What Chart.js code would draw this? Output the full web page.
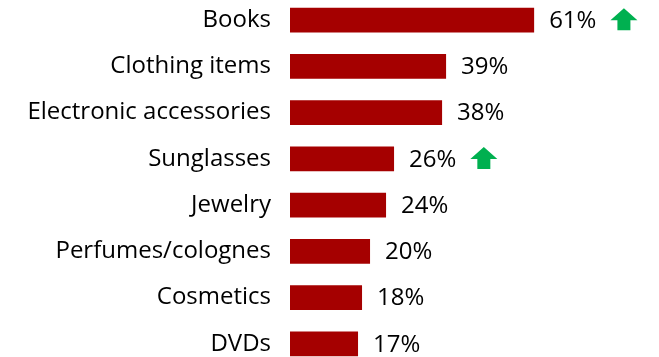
<!DOCTYPE html>
<html>
<head>
<meta charset="utf-8">
<script src="https://cdn.jsdelivr.net/npm/chart.js@4.4.1/dist/chart.umd.min.js"></script>
<style>
    html, body { margin: 0; padding: 0; background: #fff; overflow: hidden; }
    #wrap { position: relative; width: 659px; height: 357px; overflow: hidden; }
    #items { position: absolute; left: 0; top: -3px; }
</style>
</head>
<body>
<div id="wrap">
    <canvas id="items" width="659" height="370"></canvas>
</div>
<script>
const itemLabels = ['Books', 'Clothing items', 'Electronic accessories', 'Sunglasses', 'Jewelry', 'Perfumes/colognes', 'Cosmetics', 'DVDs'];
const itemValues = [61, 39, 38, 26, 24, 20, 18, 17];
const itemRising = [true, false, false, true, false, false, false, false];

const barColor = '#A50000';
const arrowColor = '#00B050';
const fontFamily = "'Open Sans', sans-serif";

// percentage labels at the end of each bar, plus green arrows where the share went up
const valueLabels = {
    id: 'valueLabels',
    afterDatasetsDraw(chart) {
        const ctx = chart.ctx;
        const meta = chart.getDatasetMeta(0);
        ctx.save();
        ctx.font = '24px ' + fontFamily;
        ctx.fillStyle = '#000';
        ctx.textBaseline = 'middle';
        ctx.textAlign = 'left';
        meta.data.forEach((bar, i) => {
            const text = itemValues[i] + '%';
            const x = bar.x + 15;
            ctx.fillText(text, x, bar.y + 1);
            if (itemRising[i]) {
                const ax = x + ctx.measureText(text).width + 14;
                const top = bar.y - 12;
                const w = 27, headH = 12, shaftW = 13, h = 22;
                ctx.fillStyle = arrowColor;
                ctx.beginPath();
                ctx.moveTo(ax + w / 2, top);
                ctx.lineTo(ax + w, top + headH);
                ctx.lineTo(ax + w / 2 + shaftW / 2, top + headH);
                ctx.lineTo(ax + w / 2 + shaftW / 2, top + h);
                ctx.lineTo(ax + w / 2 - shaftW / 2, top + h);
                ctx.lineTo(ax + w / 2 - shaftW / 2, top + headH);
                ctx.lineTo(ax, top + headH);
                ctx.closePath();
                ctx.fill();
                ctx.fillStyle = '#000';
            }
        });
        ctx.restore();
    }
};

new Chart(document.getElementById('items').getContext('2d'), {
    type: 'bar',
    data: {
        labels: itemLabels,
        datasets: [{
            data: itemValues,
            backgroundColor: barColor,
            borderWidth: 0,
            barPercentage: 0.54,
            categoryPercentage: 1
        }]
    },
    options: {
        indexAxis: 'y',
        responsive: false,
        animation: false,
        layout: { padding: 0 },
        scales: {
            x: {
                display: false,
                min: 0,
                max: 92.2
            },
            y: {
                afterFit(scale) {
                    scale.width = 290;
                    scale.paddingTop = 0;
                    scale.paddingBottom = 0;
                },
                grid: { display: false, drawTicks: false },
                border: { display: false },
                ticks: {
                    padding: 19,
                    color: '#000',
                    font: { family: fontFamily, size: 24 }
                }
            }
        },
        plugins: {
            legend: { display: false },
            tooltip: { enabled: false }
        }
    },
    plugins: [valueLabels]
});
</script>
</body>
</html>
